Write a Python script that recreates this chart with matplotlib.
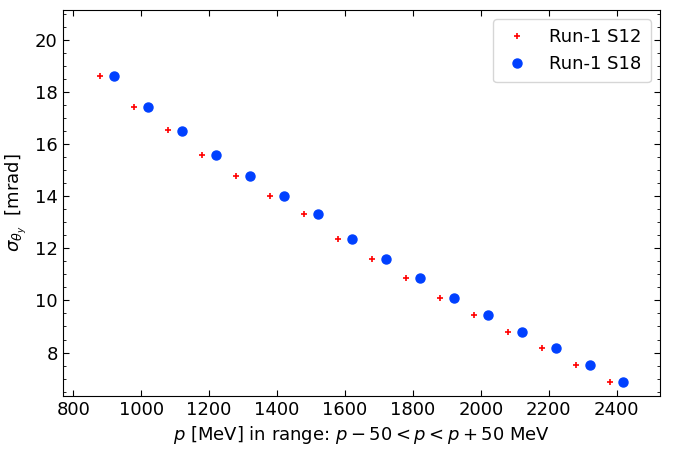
import numpy as np
import matplotlib
matplotlib.use("Agg")
import matplotlib.pyplot as plt
from matplotlib.ticker import MultipleLocator

# bin centres [MeV]
p_centres = [900, 1000, 1100, 1200, 1300, 1400, 1500, 1600,
             1700, 1800, 1900, 2000, 2100, 2200, 2300, 2400]
sigma_s12 = [18.62, 17.44, 16.53, 15.60, 14.78, 14.00, 13.33, 12.36,
             11.60, 10.87, 10.10, 9.45, 8.79, 8.18, 7.52, 6.88]
sigma_s18 = [18.62, 17.44, 16.52, 15.60, 14.77, 14.00, 13.32, 12.36,
             11.60, 10.86, 10.10, 9.45, 8.79, 8.18, 7.52, 6.88]
labels = ["Run-1 S12", "Run-1 S18"]

plt.rcParams['font.size'] = 13
fig, ax = plt.subplots(figsize=(6.74, 4.57), dpi=100)

p = np.array(p_centres)
ax.plot(p - 20, sigma_s12, '+', color='#ff0000', ms=5, mew=1.2, label=labels[0])
ax.plot(p + 20, sigma_s18, 'o', color='#0040ff', ms=6.5, label=labels[1])

ax.set_xlim(769, 2527)
ax.set_ylim(6.34, 21.15)
ax.yaxis.set_minor_locator(MultipleLocator(0.5))
ax.tick_params(which='both', direction='in', top=True, right=True)
ax.tick_params(which='major', length=4)
ax.tick_params(which='minor', length=2)

ax.set_xlabel(r"$p$ [MeV] in range: $p-50<p<p+50$ MeV")
ax.set_ylabel(r"$\sigma_{\theta_y}$  [mrad]")
ax.legend(loc='upper right', handletextpad=1.0, handlelength=1.6, borderpad=0.5)

plt.subplots_adjust(left=0.093, right=0.979, bottom=0.134, top=0.978)
plt.savefig("out.png", dpi=100)
